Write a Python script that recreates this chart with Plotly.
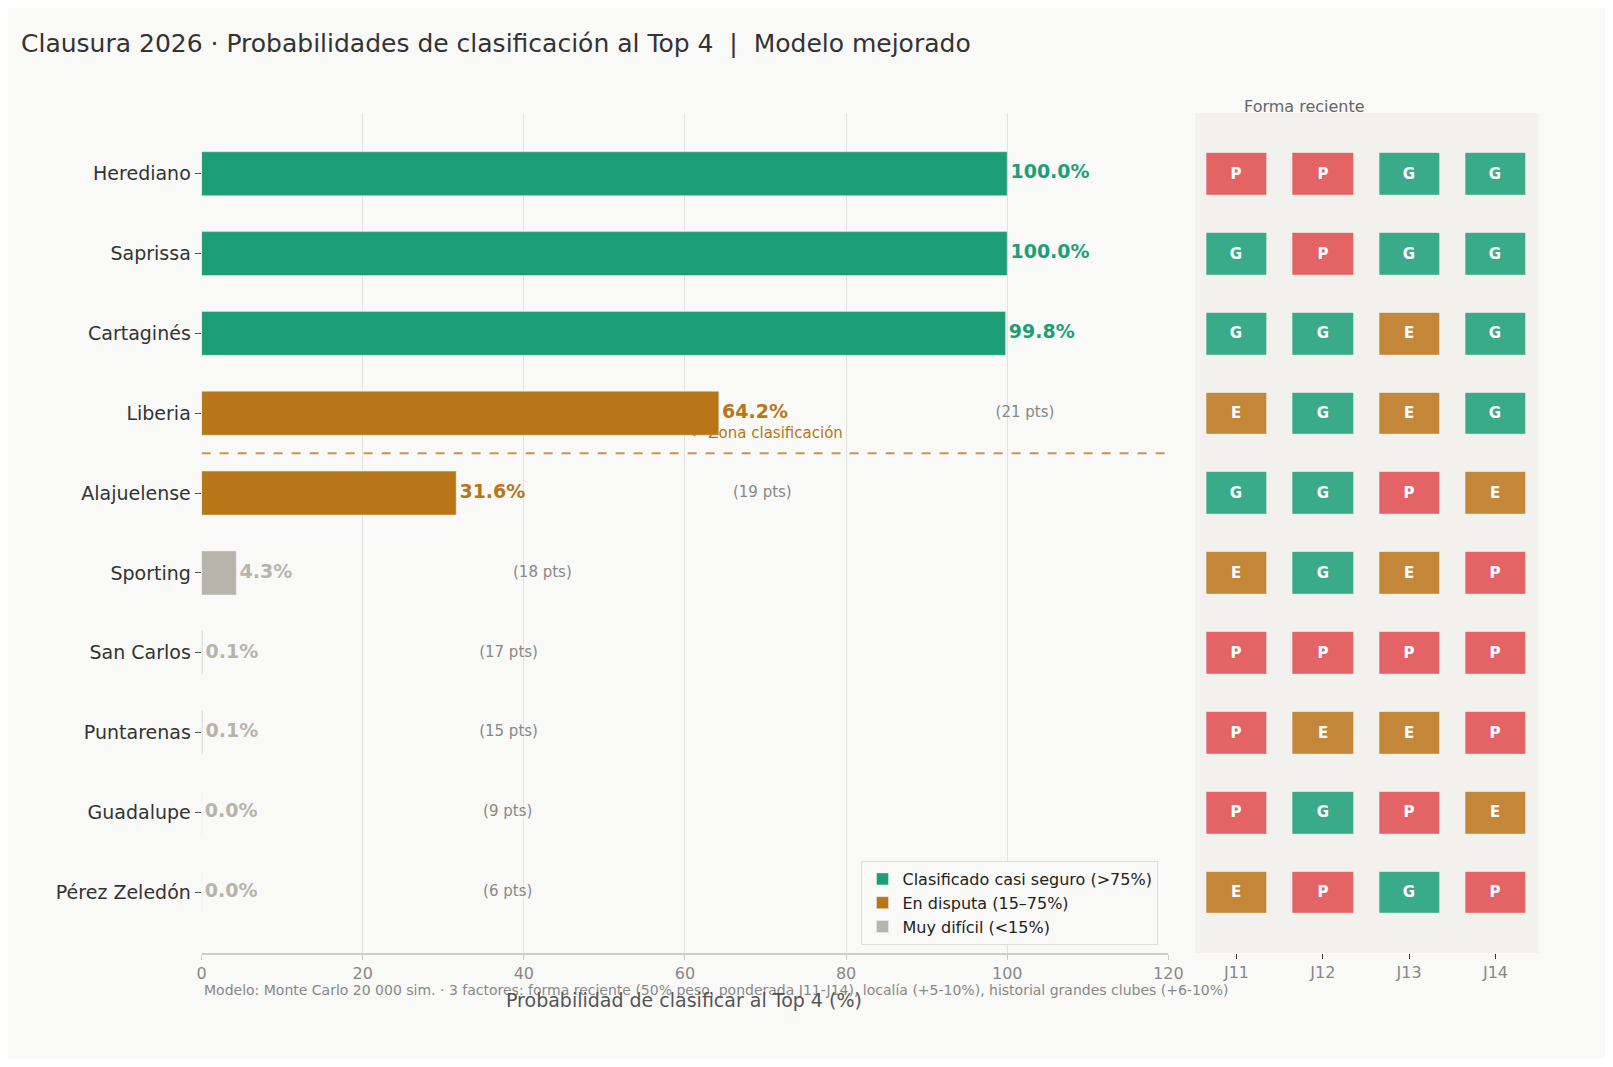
import plotly.graph_objects as go

teams = ['Herediano', 'Saprissa', 'Cartaginés', 'Liberia', 'Alajuelense', 'Sporting',
         'San Carlos', 'Puntarenas', 'Guadalupe', 'Pérez Zeledón']
prob = [100.0, 100.0, 99.8, 64.2, 31.6, 4.3, 0.1, 0.1, 0.0, 0.0]
pts = [None, None, None, 21, 19, 18, 17, 15, 9, 6]
forma = [['P', 'P', 'G', 'G'], ['G', 'P', 'G', 'G'], ['G', 'G', 'E', 'G'], ['E', 'G', 'E', 'G'],
         ['G', 'G', 'P', 'E'], ['E', 'G', 'E', 'P'], ['P', 'P', 'P', 'P'], ['P', 'E', 'E', 'P'],
         ['P', 'G', 'P', 'E'], ['E', 'P', 'G', 'P']]
jornadas = ['J11', 'J12', 'J13', 'J14']

GREEN, ORANGE, GRAY = '#1e9e77', '#b87617', '#b7b4ac'
W, H = 1597, 1051  # page adds an 8px body margin


def px(x):
    return (x - 8) / W


def py(y):
    return 1 - (y - 8) / H


def cat(p):
    return 'hi' if p > 75 else ('mid' if p >= 15 else 'lo')

groups = [('hi', 'Clasificado casi seguro (>75%)', GREEN),
          ('mid', 'En disputa (15–75%)', ORANGE),
          ('lo', 'Muy difícil (<15%)', GRAY)]
cmap = {g: c for g, _, c in groups}

fig = go.Figure()
for g, name, col in groups:
    idx = [i for i, p in enumerate(prob) if cat(p) == g]
    fig.add_trace(go.Bar(x=[prob[i] for i in idx], y=[teams[i] for i in idx], orientation='h',
                         name=name, marker_color=col, width=0.55))

fig.add_trace(go.Scatter(x=[p + 0.4 for p in prob], y=teams, mode='text',
                         text=[f'<b>{p:.1f}%</b>' for p in prob], textposition='middle right',
                         textfont=dict(size=19, color=[cmap[cat(p)] for p in prob]),
                         showlegend=False, hoverinfo='skip'))
pi = [i for i, p in enumerate(pts) if p is not None]
fig.add_trace(go.Scatter(x=[prob[i] + 38 for i in pi], y=[teams[i] for i in pi], mode='text',
                         text=[f'({pts[i]} pts)' for i in pi], textposition='middle center',
                         textfont=dict(size=15, color='#888'), showlegend=False, hoverinfo='skip'))

# forma reciente
code = {'G': 0, 'E': 1, 'P': 2}
fig.add_trace(go.Heatmap(z=[[code[r] for r in row] for row in forma], x=jornadas, y=teams,
                         text=forma, texttemplate='<b>%{text}</b>', textfont=dict(size=15, color='white'),
                         colorscale=[[0, '#3aab88'], [0.33, '#3aab88'], [0.34, '#c4873a'], [0.66, '#c4873a'],
                                     [0.67, '#e46466'], [1, '#e46466']],
                         zmin=0, zmax=2, showscale=False, xgap=26, ygap=38,
                         xaxis='x2', yaxis='y2', hoverinfo='skip'))

fig.add_shape(type='line', x0=0, x1=120, y0=3.5, y1=3.5, xref='x', yref='y',
              line=dict(color='#c8954a', width=2, dash='dash'))
fig.add_annotation(x=60.5, y=3.25, xref='x', yref='y', text='← Zona clasificación', showarrow=False,
                   xanchor='left', font=dict(size=15, color='#b87617'))

fig.add_annotation(x=px(14), y=py(27), xref='paper', yref='paper', xanchor='left',
                   text='Clausura 2026 · Probabilidades de clasificación al Top 4  |  Modelo mejorado',
                   showarrow=False, font=dict(size=25, color='#333'))
fig.add_annotation(x=px(1379), y=py(95), xref='paper', yref='paper', text='Forma reciente',
                   showarrow=False, font=dict(size=16, color='#666'))
fig.add_annotation(x=px(199), y=py(1000), xref='paper', yref='paper', xanchor='left',
                   text='Modelo: Monte Carlo 20 000 sim. · 3 factores: forma reciente (50% peso, ponderada J11-J14), '
                        'localía (+5-10%), historial grandes clubes (+6-10%)',
                   showarrow=False, font=dict(size=14, color='#888'))
fig.add_annotation(x=px(688), y=py(1013), xref='paper', yref='paper',
                   text='Probabilidad de clasificar al Top 4 (%)', showarrow=False,
                   font=dict(size=19, color='#555'))

fig.update_layout(
    width=W, height=H, margin=dict(l=0, r=0, t=0, b=0),
    paper_bgcolor='#f9f9f7', plot_bgcolor='#f9f9f7', barmode='overlay',
    font=dict(family='DejaVu Sans'),
    xaxis=dict(domain=[px(199), px(1178)], range=[0, 120], dtick=20, showgrid=True,
               gridcolor='#e2e2e2', zeroline=False, showline=True, linecolor='#ccc', linewidth=2,
               ticks='outside', tickcolor='#ccc', tickfont=dict(size=16, color='#888')),
    yaxis=dict(domain=[py(953), py(113)], categoryorder='array', categoryarray=teams,
               range=[9.76, -0.76], ticks='outside', tickcolor='#555', ticklen=6,
               tickfont=dict(size=19, color='#333'), showline=False, showgrid=False),
    xaxis2=dict(domain=[px(1205), px(1553)], range=[-0.48, 3.5], anchor='y2', ticks='outside',
                tickcolor='#333', showgrid=False, zeroline=False, tickfont=dict(size=16, color='#888')),
    yaxis2=dict(domain=[py(953), py(113)], anchor='x2', categoryorder='array',
                categoryarray=teams, range=[9.76, -0.76], showticklabels=False, showgrid=False,
                zeroline=False),
    legend=dict(x=px(1168), y=py(945), xanchor='right', yanchor='bottom',
                bgcolor='#f9f9f7', bordercolor='#ddd', borderwidth=1, font=dict(size=16, color='#222')),
)
fig.add_shape(type='rect', xref='paper', yref='paper', x0=px(1205), x1=px(1553),
              y0=py(953), y1=py(113), fillcolor='#f2f1ee', line_width=0, layer='below')

fig.write_html('out.html')
